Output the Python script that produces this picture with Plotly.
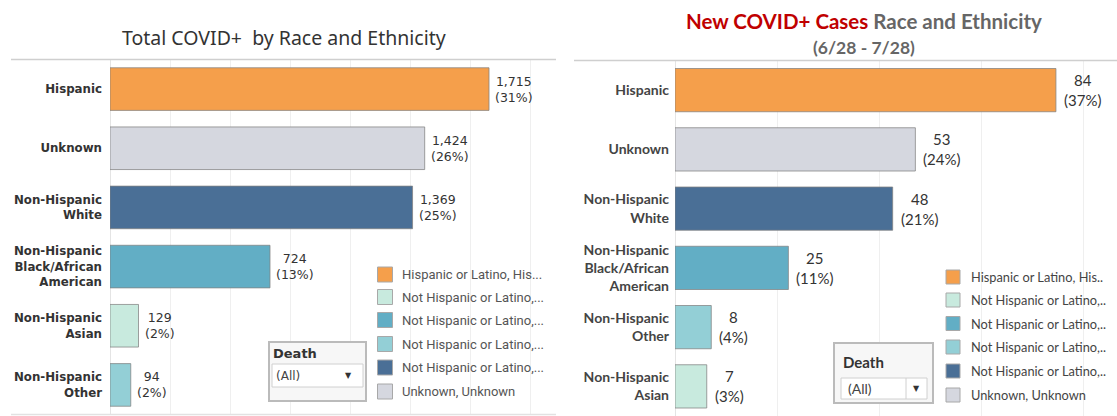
import plotly.graph_objects as go

W, H = 1117, 416

# ---------------- data ----------------
left_cats = ["Hispanic", "Unknown", "Non-Hispanic<br>White",
             "Non-Hispanic<br>Black/African<br>American", "Non-Hispanic<br>Asian",
             "Non-Hispanic<br>Other"]
left_vals = [1715, 1424, 1369, 724, 129, 94]
left_pcts = ["31%", "26%", "25%", "13%", "2%", "2%"]
left_keys = ["hisp", "unk", "white", "black", "asian", "other"]

right_cats = ["Hispanic", "Unknown", "Non-Hispanic<br>White",
              "Non-Hispanic<br>Black/African<br>American", "Non-Hispanic<br>Other",
              "Non-Hispanic<br>Asian"]
right_vals = [84, 53, 48, 25, 8, 7]
right_pcts = ["37%", "24%", "21%", "11%", "4%", "3%"]
right_keys = ["hisp", "unk", "white", "black", "other", "asian"]

legend_labels_left = ["Hispanic or Latino, His...", "Not Hispanic or Latino,...",
                      "Not Hispanic or Latino,...", "Not Hispanic or Latino,...",
                      "Not Hispanic or Latino,...", "Unknown, Unknown"]
legend_labels_right = ["Hispanic or Latino, His..", "Not Hispanic or Latino,..",
                       "Not Hispanic or Latino,..", "Not Hispanic or Latino,..",
                       "Not Hispanic or Latino,..", "Unknown, Unknown"]
legend_keys = ["hisp", "asian", "black", "other", "white", "unk"]

colors = {"hisp": "#F59F4B", "unk": "#D5D7DF", "white": "#4A6F96",
          "black": "#62AEC5", "asian": "#C8EADE", "other": "#93CFD6"}

# ---------------- helpers ----------------
def px_x(p):
    return p / W

def px_y(p):
    return 1 - p / H

fig = go.Figure()

fig.add_trace(go.Bar(
    x=left_vals, y=left_cats, orientation="h", xaxis="x", yaxis="y",
    marker=dict(color=[colors[k] for k in left_keys],
                line=dict(color="rgba(130,130,130,0.75)", width=1)),
    width=0.72, showlegend=False, hoverinfo="skip"))

fig.add_trace(go.Bar(
    x=right_vals, y=right_cats, orientation="h", xaxis="x2", yaxis="y2",
    marker=dict(color=[colors[k] for k in right_keys],
                line=dict(color="rgba(130,130,130,0.75)", width=1)),
    width=0.73, showlegend=False, hoverinfo="skip"))

annotations = []
shapes = []

# value labels
for c, v, p in zip(left_cats, left_vals, left_pcts):
    annotations.append(dict(x=v, y=c, xref="x", yref="y", text=f"{v:,}<br>({p})",
                            showarrow=False, xanchor="left", xshift=4, align="center",
                            font=dict(family="DejaVu Sans", size=12.5, color="#333333")))
for c, v, p in zip(right_cats, right_vals, right_pcts):
    annotations.append(dict(x=v, y=c, xref="x2", yref="y2", text=f"{v}<br>({p})",
                            showarrow=False, xanchor="left", xshift=6, align="center",
                            font=dict(family="Lato", size=15, color="#333333")))

# titles
annotations.append(dict(x=px_x(284), y=px_y(37), xref="paper", yref="paper",
                        text="Total COVID+  by Race and Ethnicity", showarrow=False,
                        xanchor="center", yanchor="middle",
                        font=dict(family="Noto Sans", size=19.5, color="#333333")))
annotations.append(dict(x=px_x(864), y=px_y(21), xref="paper", yref="paper",
                        text="<b><span style='color:#C00000'>New COVID+ Cases</span> Race and Ethnicity</b>",
                        showarrow=False, xanchor="center", yanchor="middle",
                        font=dict(family="Lato", size=20.5, color="#666666")))
annotations.append(dict(x=px_x(864), y=px_y(47), xref="paper", yref="paper",
                        text="<b>(6/28 - 7/28)</b>", showarrow=False,
                        xanchor="center", yanchor="middle",
                        font=dict(family="Lato", size=17.5, color="#666666")))

# horizontal separator lines
shapes.append(dict(type="line", xref="paper", yref="paper", x0=px_x(11), x1=px_x(556),
                   y0=px_y(59.5), y1=px_y(59.5), line=dict(color="#CFCFCF", width=1.5)))
shapes.append(dict(type="line", xref="paper", yref="paper", x0=px_x(11), x1=px_x(556),
                   y0=px_y(414.5), y1=px_y(414.5), line=dict(color="#E2E2E2", width=1.5)))
shapes.append(dict(type="line", xref="paper", yref="paper", x0=px_x(574), x1=1,
                   y0=px_y(60.5), y1=px_y(60.5), line=dict(color="#CFCFCF", width=1.5)))

# legends
def add_legend(labels, sq_x, sq_size, txt_x, rows_y, font):
    for lab, key, cy in zip(labels, legend_keys, rows_y):
        shapes.append(dict(type="rect", xref="paper", yref="paper",
                           x0=px_x(sq_x), x1=px_x(sq_x + sq_size),
                           y0=px_y(cy + sq_size / 2), y1=px_y(cy - sq_size / 2),
                           fillcolor=colors[key], line=dict(color="#A8A8A8", width=1)))
        annotations.append(dict(x=px_x(txt_x), y=px_y(cy), xref="paper", yref="paper",
                                text=lab, showarrow=False, xanchor="left", yanchor="middle",
                                font=font))

add_legend(legend_labels_left, 377.5, 15, 400, [274.5, 297, 320, 344, 367.5, 391.5],
           dict(family="Roboto", size=13, color="#555555"))
add_legend(legend_labels_right, 946, 14, 969, [277, 300, 323.5, 347, 371, 395],
           dict(family="Lato", size=12.8, color="#444444"))

# Death filter widgets
def add_filter(bx0, by0, bx1, by1, death_xy, dd, all_x, arrow_x, divider_x, size_d, fam):
    shapes.append(dict(type="rect", xref="paper", yref="paper",
                       x0=px_x(bx0), x1=px_x(bx1), y0=px_y(by1), y1=px_y(by0),
                       fillcolor="#F7F7F7", line=dict(color="#BBBBBB", width=2)))
    shapes.append(dict(type="rect", xref="paper", yref="paper",
                       x0=px_x(dd[0]), x1=px_x(dd[2]), y0=px_y(dd[3]), y1=px_y(dd[1]),
                       fillcolor="#FFFFFF", line=dict(color="#D0D0D0", width=1)))
    if divider_x:
        shapes.append(dict(type="line", xref="paper", yref="paper",
                           x0=px_x(divider_x), x1=px_x(divider_x),
                           y0=px_y(dd[3]), y1=px_y(dd[1]), line=dict(color="#D0D0D0", width=1)))
    annotations.append(dict(x=px_x(death_xy[0]), y=px_y(death_xy[1]), xref="paper", yref="paper",
                            text="<b>Death</b>", showarrow=False, xanchor="left", yanchor="middle",
                            font=dict(family=fam, size=size_d, color="#333333")))
    cy = (dd[1] + dd[3]) / 2
    annotations.append(dict(x=px_x(all_x), y=px_y(cy), xref="paper", yref="paper",
                            text="(All)", showarrow=False, xanchor="left", yanchor="middle",
                            font=dict(family=fam, size=size_d - 1, color="#444444")))
    annotations.append(dict(x=px_x(arrow_x), y=px_y(cy), xref="paper", yref="paper",
                            text="▼", showarrow=False, xanchor="center", yanchor="middle",
                            font=dict(family="DejaVu Sans", size=8, color="#333333")))

add_filter(269, 342, 366, 401, (271, 353), (272, 364, 363, 387), 274, 348, None, 13, "DejaVu Sans")
add_filter(834, 343, 933, 403, (841, 362), (841, 378, 927, 399), 846, 916, 906, 15, "Lato")

left_x_max = (556 - 110) / 0.221
right_x_max = (1117 - 675) / 4.535

fig.update_layout(
    width=W, height=H, margin=dict(l=0, r=0, t=0, b=0),
    paper_bgcolor="white", plot_bgcolor="white",
    xaxis=dict(domain=[px_x(110), px_x(556)], range=[0, left_x_max], anchor="y",
               showticklabels=False, showgrid=True, gridcolor="#EFEFEF", gridwidth=1,
               dtick=272, tick0=0, zeroline=True, zerolinecolor="#E4E4E4", zerolinewidth=1,
               fixedrange=True),
    yaxis=dict(domain=[px_y(414.5), px_y(59.5)], range=[5.5, -0.5], anchor="x",
               categoryorder="array", categoryarray=left_cats, ticks="",
               ticklabelstandoff=7, showgrid=False,
               tickfont=dict(family="DejaVu Sans", size=11.8, color="#333333", weight="bold"),
               fixedrange=True),
    xaxis2=dict(domain=[px_x(675), 1], range=[0, right_x_max], anchor="y2",
                showticklabels=False, showgrid=True, gridcolor="#EFEFEF", gridwidth=1,
                dtick=22.5, tick0=0, zeroline=True, zerolinecolor="#E4E4E4", zerolinewidth=1,
                fixedrange=True),
    yaxis2=dict(domain=[0, px_y(60.5)], range=[5.5, -0.5], anchor="x2",
                categoryorder="array", categoryarray=right_cats, ticks="",
                ticklabelstandoff=5, showgrid=False,
                tickfont=dict(family="Lato", size=14, color="#444444", weight="bold"),
                fixedrange=True),
    annotations=annotations, shapes=shapes, bargap=0.28,
)

fig.write_html("out.html")
